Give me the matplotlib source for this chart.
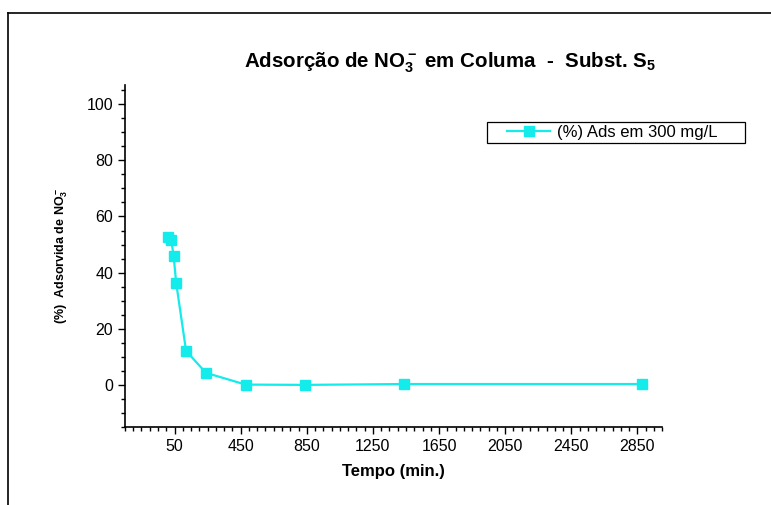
import matplotlib
matplotlib.use("Agg")
import matplotlib.pyplot as plt
from matplotlib.lines import Line2D
from matplotlib.patches import Rectangle
from matplotlib.ticker import MultipleLocator, FixedLocator

plt.rcParams['font.family'] = ['Liberation Sans', 'DejaVu Sans']
plt.rcParams['mathtext.fontset'] = 'custom'
plt.rcParams['mathtext.rm'] = 'Liberation Sans:bold'
plt.rcParams['mathtext.it'] = 'Liberation Sans:bold'
plt.rcParams['mathtext.bf'] = 'Liberation Sans:bold'

# data
tempo = [10, 30, 45, 60, 120, 240, 480, 840, 1440, 2880]
adsorvida = [52.6, 51.8, 45.8, 36.4, 12.1, 4.3, 0.1, 0.0, 0.3, 0.3]
x_ticks = [50, 450, 850, 1250, 1650, 2050, 2450, 2850]
y_ticks = [0, 20, 40, 60, 80, 100]
serie_label = "(%) Ads em 300 mg/L"
cyan = '#14EBEB'

fig = plt.figure(figsize=(7.71, 5.05), dpi=100)
ax = fig.add_axes([0.162, 0.1545, 0.697, 0.678])

ax.plot(tempo, adsorvida, color=cyan, linewidth=1.6, marker='s',
        markersize=7, markerfacecolor=cyan, markeredgecolor=cyan,
        label=serie_label)

ax.set_xlim(-250, 3000)
ax.set_ylim(-15, 107)
ax.xaxis.set_major_locator(FixedLocator(x_ticks))
ax.xaxis.set_minor_locator(MultipleLocator(50))
ax.yaxis.set_major_locator(FixedLocator(y_ticks))
ax.yaxis.set_minor_locator(MultipleLocator(5))
ax.tick_params(which='major', direction='out', length=5, width=1,
               labelsize=11.5)
ax.tick_params(which='minor', direction='out', length=3, width=1)
for side in ('top', 'right'):
    ax.spines[side].set_visible(False)
for side in ('left', 'bottom'):
    ax.spines[side].set_linewidth(1.2)

ax.set_xlabel("Tempo (min.)", fontsize=12, fontweight='bold', labelpad=7)
ax.set_ylabel(r"(%)  Adsorvida de NO$_3^-$", fontsize=9, fontweight='bold',
              labelpad=12)

# legend: box drawn separately so the side padding matches
leg = ax.legend(loc='center left', bbox_to_anchor=(0.711, 0.86), fontsize=12,
                frameon=False, handlelength=2.6, handletextpad=0.42,
                borderpad=0, borderaxespad=0)
ax.add_patch(Rectangle((0.674, 0.829), 0.479, 0.061, transform=ax.transAxes,
                       fill=False, edgecolor='black', linewidth=0.9,
                       clip_on=False))

fig.text(0.584, 0.867, r"Adsorção de NO$_3^-$ em Columa  -  Subst. S$_5$",
         ha='center', va='baseline', fontsize=14.8, fontweight='bold')

# outer frame (top and left)
fig.add_artist(Line2D([0.011, 1.0], [0.975, 0.975], color='black',
                      linewidth=1.2, transform=fig.transFigure))
fig.add_artist(Line2D([0.011, 0.011], [0.0, 0.975], color='black',
                      linewidth=1.2, transform=fig.transFigure))

fig.savefig("out.png", dpi=100)
